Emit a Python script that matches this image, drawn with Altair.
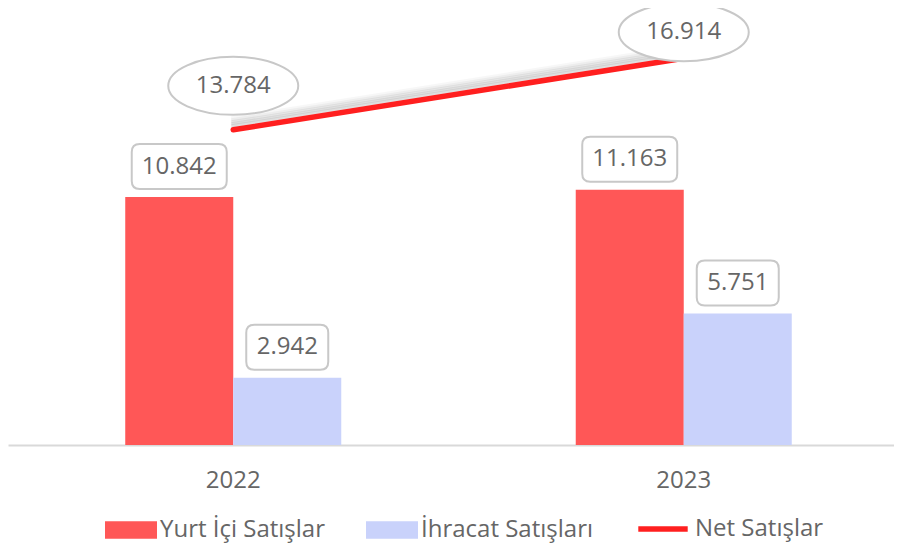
import altair as alt
import pandas as pd

years = ["2022", "2023"]
series = ["Yurt İçi Satışlar", "İhracat Satışları"]
yurt_ici = [10842, 11163]
ihracat = [2942, 5751]
net_name = "Net Satışlar"
net_satis = [13784, 16914]
bar_colors = ["#FF5757", "#C9D2FB"]
line_color = "#FF1F1F"
TXT = "#666666"
FONT = "Open Sans"


def fmt(v):
    return f"{v:,}".replace(",", ".")


def rrect_path(w, h=45.0, r=8.0):
    u = w / 2.0
    hw, hh, cr = 1.0, h / 2.0 / u, r / u
    p = (f"M{-hw+cr:.4f},{-hh:.4f} L{hw-cr:.4f},{-hh:.4f} Q{hw:.4f},{-hh:.4f} {hw:.4f},{-hh+cr:.4f} "
         f"L{hw:.4f},{hh-cr:.4f} Q{hw:.4f},{hh:.4f} {hw-cr:.4f},{hh:.4f} "
         f"L{-hw+cr:.4f},{hh:.4f} Q{-hw:.4f},{hh:.4f} {-hw:.4f},{hh-cr:.4f} "
         f"L{-hw:.4f},{-hh+cr:.4f} Q{-hw:.4f},{-hh:.4f} {-hw+cr:.4f},{-hh:.4f} Z")
    return p


rows = []
for i, yr in enumerate(years):
    for s, vals in zip(series, [yurt_ici, ihracat]):
        v = vals[i]
        lab = fmt(v)
        w = 13 * len(lab) + 17
        rows.append(dict(year=yr, series=s, value=v, label=lab,
                         box=rrect_path(w), boxsize=w * w))
bars_df = pd.DataFrame(rows)
net_df = pd.DataFrame({"year": years, "value": net_satis, "name": [net_name] * len(years),
                       "label": [fmt(v) for v in net_satis]})

ELL = "M-1,0 A1,0.446 0 1,1 1,0 A1,0.446 0 1,1 -1,0 Z"
RECT_SYM = "M-1,-0.34 L1,-0.34 L1,0.34 L-1,0.34 Z"
LINE_SYM = "M-0.95,0 L0.95,0"

x_enc = alt.X("year:N", sort=years,
              scale=alt.Scale(range=[0, 901], paddingInner=0.5205, paddingOuter=0.26025),
              axis=alt.Axis(title=None, labelFontSize=24, labelColor=TXT, labelFont=FONT,
                            ticks=False, domainColor="#d9d9d9", domainWidth=2,
                            labelPadding=23, labelAngle=0))
xo_enc = alt.XOffset("series:N", sort=series,
                     scale=alt.Scale(domain=series, paddingInner=0, paddingOuter=0))
y_enc = alt.Y("value:Q", scale=alt.Scale(domain=[0, 19110]), axis=None)

base = alt.Chart(bars_df)

bars = base.mark_bar().encode(
    x=x_enc, xOffset=xo_enc, y=y_enc,
    color=alt.Color("series:N",
                    scale=alt.Scale(domain=series, range=bar_colors),
                    legend=alt.Legend(orient="none", legendX=97, legendY=496,
                                      direction="horizontal", title=None,
                                      symbolType=RECT_SYM, symbolSize=2704,
                                      symbolStrokeWidth=0, symbolOpacity=1,
                                      labelFontSize=24, labelFont=FONT, labelColor=TXT,
                                      labelOffset=3, columnPadding=41, labelLimit=400)),
)

boxes = base.mark_point(fill="white", fillOpacity=1, stroke="#c8c8c8", strokeWidth=2,
                        opacity=1, yOffset=-30.5).encode(
    x=x_enc, xOffset=xo_enc, y=y_enc,
    shape=alt.Shape("box:N", scale=None),
    size=alt.Size("boxsize:Q", scale=None),
)

box_text = base.mark_text(dy=-30.5, fontSize=24, font=FONT, color=TXT,
                          baseline="middle").encode(
    x=x_enc, xOffset=xo_enc, y=y_enc, text="label:N")

nbase = alt.Chart(net_df)
shadows = [
    nbase.mark_line(color="#000000", opacity=op, strokeWidth=5, yOffset=-k, xOffset=-2).encode(
        x=x_enc, y=y_enc)
    for k, op in [(3, 0.06), (5, 0.07), (7, 0.06), (9, 0.04), (11, 0.03)]
]
line = nbase.mark_line(strokeWidth=5.5, strokeCap="round").encode(
    x=x_enc, y=y_enc,
    stroke=alt.Stroke("name:N", scale=alt.Scale(domain=[net_name], range=[line_color]),
                      legend=alt.Legend(orient="none", legendX=626, legendY=492,
                                        direction="horizontal", title=None,
                                        symbolType=LINE_SYM, symbolSize=2704,
                                        symbolStrokeWidth=5.5, symbolOpacity=1,
                                        labelFontSize=24, labelFont=FONT, labelColor=TXT,
                                        labelOffset=3, labelLimit=400)),
)

ell_layers = []
for yr, off in zip(years, [-44, -26]):
    sub = nbase.transform_filter(alt.datum.year == yr)
    ell_layers.append(sub.mark_point(shape=ELL, size=16900, fill="white", fillOpacity=1,
                                     stroke="#c8c8c8", strokeWidth=2, opacity=1,
                                     yOffset=off).encode(x=x_enc, y=y_enc))
    ell_layers.append(sub.mark_text(dy=off, fontSize=24, font=FONT, color=TXT,
                                    baseline="middle").encode(x=x_enc, y=y_enc, text="label:N"))

chart = alt.layer(bars, boxes, box_text, *shadows, line, *ell_layers).properties(
    width=886, height=437,
    autosize=alt.AutoSizeParams(type="none"),
    padding={"left": 0, "top": 0, "right": 0, "bottom": 100},
).configure_view(stroke=None)

chart.save("out.html", embed_options={"renderer": "svg", "actions": False})
